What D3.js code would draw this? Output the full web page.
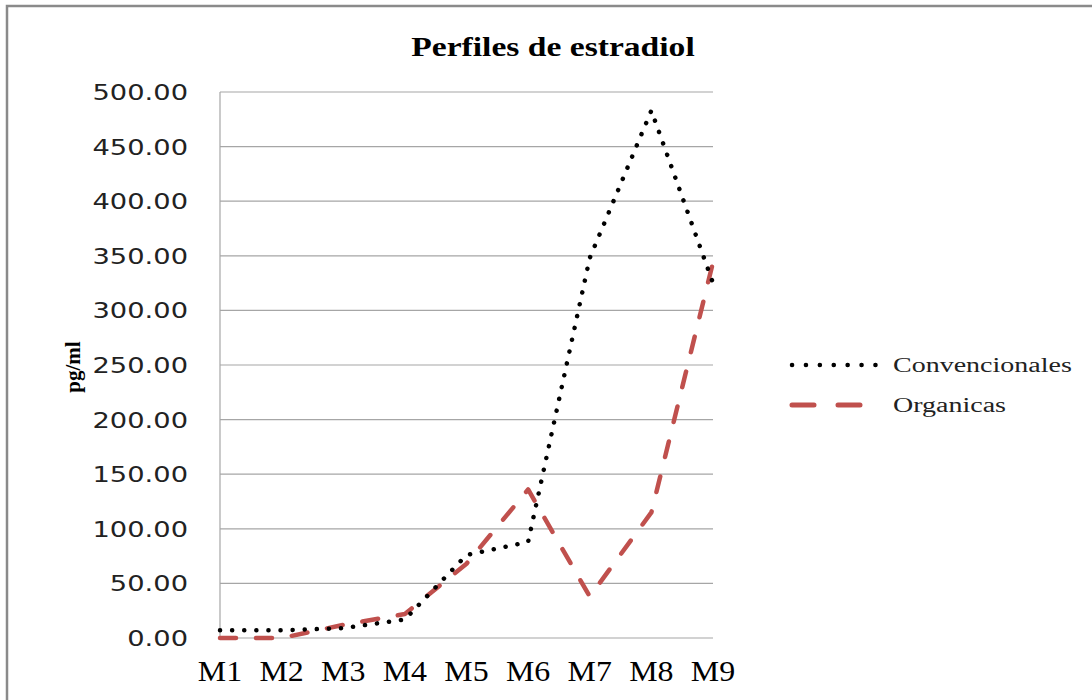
<!DOCTYPE html>
<html>
<head>
<meta charset="utf-8">
<script src="https://cdn.jsdelivr.net/npm/d3@7"></script>
<style>
  body { margin: 0; background: #fff; }
  svg { display: block; }
</style>
</head>
<body>
<svg id="chart" width="1092" height="700"></svg>
<script>
const categories = ["M1", "M2", "M3", "M4", "M5", "M6", "M7", "M8", "M9"];
const convencionales = [7, 7, 9, 17, 76, 88, 348, 483, 325];
const organicas = [0, 0, 12, 22, 68, 136, 38, 115, 344];
const yTicks = [0, 50, 100, 150, 200, 250, 300, 350, 400, 450, 500];
const seriesNames = ["Convencionales", "Organicas"];
const chartTitle = "Perfiles de estradiol";
const yTitle = "pg/ml";

const svg = d3.select("#chart");
const W = 1092, H = 700;
const plot = { left: 220, right: 713, top: 92, bottom: 638 };
const SX = 1.3; // horizontal stretch of text in reference

svg.append("rect").attr("width", W).attr("height", H).attr("fill", "#fff");
// frame
svg.append("path")
  .attr("d", `M7,${H} L7,6 L${W},6`)
  .attr("fill", "none").attr("stroke", "#8a8a8a").attr("stroke-width", 2.5);

const x = d3.scalePoint().domain(categories).range([plot.left, plot.right]);
const y = d3.scaleLinear().domain([0, 500]).range([plot.bottom, plot.top]);

// gridlines
svg.append("g").selectAll("line").data(yTicks).join("line")
  .attr("x1", plot.left).attr("x2", plot.right)
  .attr("y1", d => y(d)).attr("y2", d => y(d))
  .attr("stroke", "#a6a6a6").attr("stroke-width", 1.2);

// y axis line
svg.append("line").attr("x1", plot.left).attr("x2", plot.left)
  .attr("y1", plot.top).attr("y2", plot.bottom)
  .attr("stroke", "#a6a6a6").attr("stroke-width", 1.2);

// y tick labels
svg.append("g").selectAll("text").data(yTicks).join("text")
  .attr("transform", d => `translate(188,${y(d) + 8}) scale(${SX},1)`)
  .attr("text-anchor", "end")
  .attr("font-family", "DejaVu Sans")
  .attr("font-size", 21)
  .attr("fill", "#222")
  .text(d => d3.format(".2f")(d));

// x labels
svg.append("g").selectAll("text").data(categories).join("text")
  .attr("transform", d => `translate(${x(d)},681) scale(1.1,1)`)
  .attr("text-anchor", "middle")
  .attr("font-family", "Liberation Serif")
  .attr("font-size", 29)
  .attr("fill", "#000")
  .text(d => d);

// title
svg.append("text")
  .attr("transform", "translate(553,56) scale(1.2,1)")
  .attr("text-anchor", "middle")
  .attr("font-family", "Liberation Serif")
  .attr("font-weight", "bold")
  .attr("font-size", 28)
  .text(chartTitle);

// y title
svg.append("text")
  .attr("transform", "translate(80,367) rotate(-90)")
  .attr("text-anchor", "middle")
  .attr("font-family", "Liberation Serif")
  .attr("font-weight", "bold")
  .attr("font-size", 21)
  .text(yTitle);

const line = d3.line().x((d, i) => x(categories[i])).y(d => y(d));

const styles = [
  { stroke: "#000", width: 4.5, dash: "0.1,12" },
  { stroke: "#c0504d", width: 4.5, dash: "16,20" }
];

svg.append("path").datum(organicas)
  .attr("d", line).attr("fill", "none")
  .attr("stroke", styles[1].stroke).attr("stroke-width", styles[1].width)
  .attr("stroke-dasharray", styles[1].dash).attr("stroke-linecap", "round")
  .attr("stroke-linejoin", "round");

svg.append("path").datum(convencionales)
  .attr("d", line).attr("fill", "none")
  .attr("stroke", styles[0].stroke).attr("stroke-width", styles[0].width)
  .attr("stroke-dasharray", styles[0].dash).attr("stroke-linecap", "round")
  .attr("stroke-linejoin", "round");

// legend
const leg = svg.append("g");
const legDash = ["0.1,13.8", "22,24"];
seriesNames.forEach((name, i) => {
  const ly = 365 + i * 40;
  leg.append("line").attr("x1", 792).attr("x2", i === 0 ? 876 : 862)
    .attr("y1", ly).attr("y2", ly)
    .attr("stroke", styles[i].stroke).attr("stroke-width", i === 0 ? 4.5 : 5)
    .attr("stroke-dasharray", legDash[i]).attr("stroke-linecap", "round");
  leg.append("text")
    .attr("transform", `translate(893,${ly + 7}) scale(1.4,1)`)
    .attr("font-family", "Liberation Serif")
    .attr("font-size", 20)
    .attr("fill", "#222")
    .text(name);
});
</script>
</body>
</html>
